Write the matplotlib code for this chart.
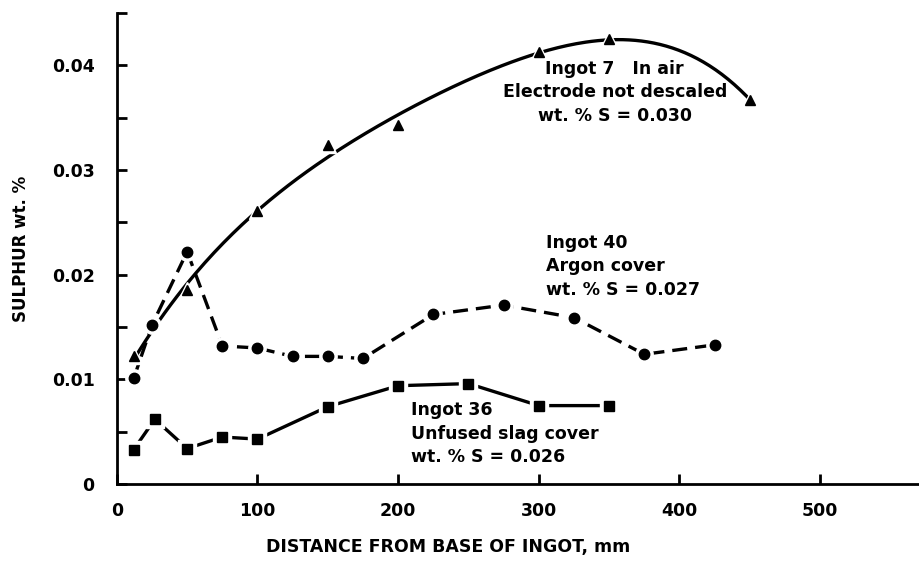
import numpy as np
import matplotlib.pyplot as plt
from matplotlib.ticker import MultipleLocator

# Ingot 7 - in air, electrode not descaled (triangles, smooth curve)
x7 = [12, 50, 100, 150, 200, 300, 350, 450]
y7 = [0.0122, 0.0185, 0.0261, 0.0324, 0.0343, 0.0413, 0.0425, 0.0367]

# Ingot 40 - argon cover (circles, dashed)
x40 = [12, 25, 50, 75, 100, 125, 150, 175, 225, 275, 325, 375, 425]
y40 = [0.0101, 0.0152, 0.0222, 0.0132, 0.0130, 0.0122, 0.0122, 0.0120,
       0.0162, 0.0171, 0.0159, 0.0124, 0.0133]

# Ingot 36 - unfused slag cover (squares, solid)
x36 = [12, 27, 50, 75, 100, 150, 200, 250, 300, 350]
y36 = [0.0033, 0.0062, 0.0034, 0.0045, 0.0043, 0.0074, 0.0094, 0.0096,
       0.0075, 0.0075]

xticks = [0, 100, 200, 300, 400, 500]
yticks = [0, 0.01, 0.02, 0.03, 0.04]
yticklabels = ['0', '0.01', '0.02', '0.03', '0.04']

plt.rcParams['font.family'] = ['DejaVu Sans']
plt.rcParams['font.weight'] = 'bold'
plt.rcParams['axes.labelweight'] = 'bold'

fig = plt.figure(figsize=(9.2, 5.61), dpi=100)
ax = fig.add_axes([0.127, 0.137, 0.873, 0.840])


def marcadores(x, y, m, ms):
    # halo branco por baixo, para interromper a linha em volta do ponto
    ax.plot(x, y, linestyle='none', marker=m, ms=ms + 5, color='white',
            zorder=3)
    ax.plot(x, y, linestyle='none', marker=m, ms=ms, color='black',
            zorder=4)


# Curva ajustada (polinômio de grau 4) para o lingote 7
coefs = np.polyfit(x7, y7, 4)
p = np.poly1d(coefs)
xc = np.linspace(min(x7), max(x7), 200)
ax.plot(xc, p(xc), color='black', lw=2.4, zorder=2)
marcadores(x7, y7, '^', 7)

ax.plot(x40, y40, color='black', lw=2.4, linestyle=(0, (4.5, 2.4)), zorder=2)
marcadores(x40, y40, 'o', 7.5)
ax.plot(x36, y36, color='black', lw=2.4, zorder=2)
marcadores(x36, y36, 's', 7.5)

ax.set_xlim(0, 571)
ax.set_ylim(0, 0.045)
ax.set_xticks(xticks)
ax.set_xticklabels([str(v) for v in xticks])
ax.set_yticks(yticks)
ax.set_yticklabels(yticklabels)
ax.yaxis.set_minor_locator(MultipleLocator(0.005))

for s in ['top', 'right']:
    ax.spines[s].set_visible(False)
for s in ['left', 'bottom']:
    ax.spines[s].set_linewidth(2)

ax.tick_params(axis='both', which='both', direction='in', width=2,
               length=7, labelsize=12.5)
ax.tick_params(axis='y', which='major', pad=16)
ax.tick_params(axis='x', which='major', pad=13)

ax.set_xlabel('DISTANCE FROM BASE OF INGOT, mm', fontsize=12.5, labelpad=15)
ax.xaxis.set_label_coords(0.413, -0.115)
ax.set_ylabel('SULPHUR wt. %', fontsize=12, labelpad=16)

# Rótulos das curvas
ax.text(354, 0.0374, 'Ingot 7   In air\nElectrode not descaled\nwt. % S = 0.030',
        ha='center', va='center', fontsize=12.5, linespacing=1.4)
ax.text(305, 0.0208, 'Ingot 40\nArgon cover\nwt. % S = 0.027',
        ha='left', va='center', fontsize=12.5, linespacing=1.4)
ax.text(209, 0.0048, 'Ingot 36\nUnfused slag cover\nwt. % S = 0.026',
        ha='left', va='center', fontsize=12.5, linespacing=1.4)

fig.savefig('out.png', dpi=100)
